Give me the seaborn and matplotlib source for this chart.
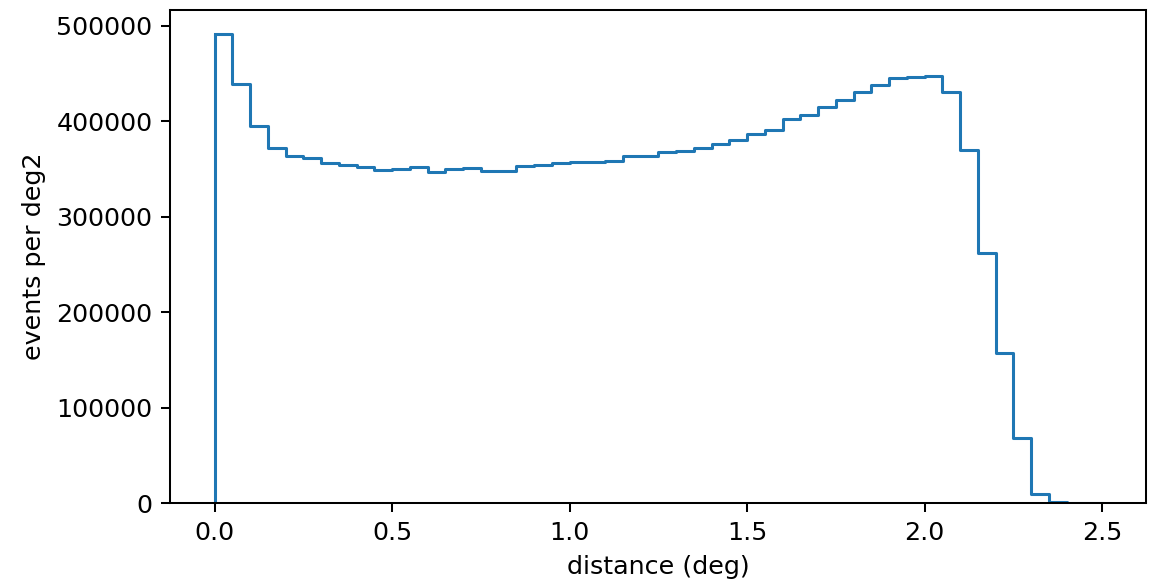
import pandas as pd
import matplotlib
matplotlib.use("Agg")
import matplotlib.pyplot as plt
import seaborn as sns

# bin edges (deg) and counts per bin (events per deg2)
bin_edges = [round(0.05 * i, 2) for i in range(51)]
counts = [
    491600, 438900, 395200, 372100, 363700, 361300, 355700, 353600, 352200, 349000,
    350100, 351900, 346600, 350100, 350800, 347700, 348300, 353200, 353600, 356400,
    357100, 357400, 358800, 364000, 363700, 367600, 368700, 371400, 375600, 380500,
    386800, 391000, 402200, 406700, 414400, 421700, 430100, 438100, 445200, 446200,
    447300, 430500, 370000, 261700, 157500, 68400, 9400, 1000, 300, 100,
]

df = pd.DataFrame({
    "distance": [(a + b) / 2 for a, b in zip(bin_edges[:-1], bin_edges[1:])],
    "weight": counts,
})

DPI = 183
fig, ax = plt.subplots(figsize=(1151 / DPI, 585 / DPI), dpi=DPI)
sns.histplot(data=df, x="distance", weights="weight", bins=bin_edges,
             element="step", fill=False, color="#1f77b4", linewidth=1.2, ax=ax)
# closing edge at the left, as a step-type histogram would draw it
ax.vlines(bin_edges[0], 0, counts[0], color="#1f77b4", linewidth=1.2)

ax.set_xlabel("distance (deg)")
ax.set_ylabel("events per deg2")
ax.set_xticks([0.0, 0.5, 1.0, 1.5, 2.0, 2.5])
ax.set_yticks([0, 100000, 200000, 300000, 400000, 500000])
ax.ticklabel_format(axis="y", style="plain")
ax.set_xlim(-0.125, 2.625)
ax.set_ylim(0, 516500)

plt.subplots_adjust(left=0.148, right=0.996, top=0.983, bottom=0.14)
plt.savefig("out.png", dpi=DPI)
